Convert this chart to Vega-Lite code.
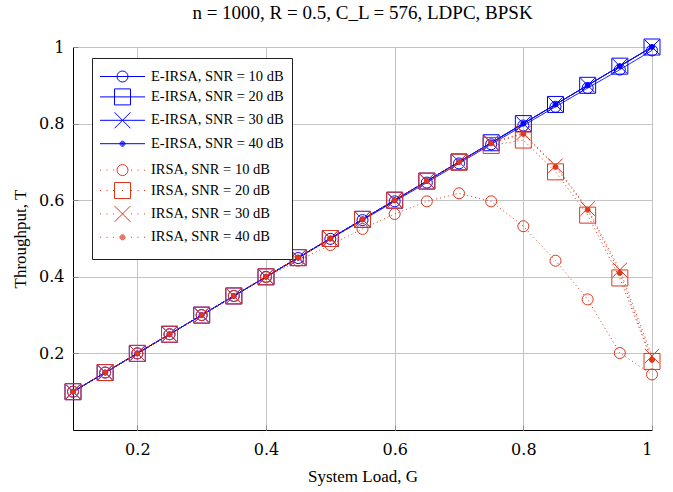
{
 "$schema": "https://vega.github.io/schema/vega-lite/v6.json",
 "width": 579,
 "height": 383,
 "autosize": "none",
 "padding": {"left": 73, "top": 47, "right": 21, "bottom": 62},
 "background": "white",
 "title": {"text": "n = 1000, R = 0.5, C_L = 576, LDPC, BPSK", "font": "Liberation Serif", "fontSize": 19, "fontWeight": "normal", "color": "black", "offset": 14, "anchor": "middle"},
 "data": {"values": [
  {"G":0.1,"T":0.1,"s":"E-IRSA, SNR = 10 dB"},{"G":0.15,"T":0.15,"s":"E-IRSA, SNR = 10 dB"},{"G":0.2,"T":0.2,"s":"E-IRSA, SNR = 10 dB"},{"G":0.25,"T":0.25,"s":"E-IRSA, SNR = 10 dB"},{"G":0.3,"T":0.3,"s":"E-IRSA, SNR = 10 dB"},{"G":0.35,"T":0.35,"s":"E-IRSA, SNR = 10 dB"},{"G":0.4,"T":0.4,"s":"E-IRSA, SNR = 10 dB"},{"G":0.45,"T":0.449,"s":"E-IRSA, SNR = 10 dB"},{"G":0.5,"T":0.499,"s":"E-IRSA, SNR = 10 dB"},{"G":0.55,"T":0.548,"s":"E-IRSA, SNR = 10 dB"},{"G":0.6,"T":0.597,"s":"E-IRSA, SNR = 10 dB"},{"G":0.65,"T":0.646,"s":"E-IRSA, SNR = 10 dB"},{"G":0.7,"T":0.696,"s":"E-IRSA, SNR = 10 dB"},{"G":0.75,"T":0.746,"s":"E-IRSA, SNR = 10 dB"},{"G":0.8,"T":0.795,"s":"E-IRSA, SNR = 10 dB"},{"G":0.85,"T":0.844,"s":"E-IRSA, SNR = 10 dB"},{"G":0.9,"T":0.893,"s":"E-IRSA, SNR = 10 dB"},{"G":0.95,"T":0.941,"s":"E-IRSA, SNR = 10 dB"},{"G":1.0,"T":0.991,"s":"E-IRSA, SNR = 10 dB"},
  {"G":0.1,"T":0.1,"s":"E-IRSA, SNR = 20 dB"},{"G":0.15,"T":0.15,"s":"E-IRSA, SNR = 20 dB"},{"G":0.2,"T":0.2,"s":"E-IRSA, SNR = 20 dB"},{"G":0.25,"T":0.25,"s":"E-IRSA, SNR = 20 dB"},{"G":0.3,"T":0.3,"s":"E-IRSA, SNR = 20 dB"},{"G":0.35,"T":0.35,"s":"E-IRSA, SNR = 20 dB"},{"G":0.4,"T":0.4,"s":"E-IRSA, SNR = 20 dB"},{"G":0.45,"T":0.45,"s":"E-IRSA, SNR = 20 dB"},{"G":0.5,"T":0.5,"s":"E-IRSA, SNR = 20 dB"},{"G":0.55,"T":0.55,"s":"E-IRSA, SNR = 20 dB"},{"G":0.6,"T":0.6,"s":"E-IRSA, SNR = 20 dB"},{"G":0.65,"T":0.65,"s":"E-IRSA, SNR = 20 dB"},{"G":0.7,"T":0.7,"s":"E-IRSA, SNR = 20 dB"},{"G":0.75,"T":0.75,"s":"E-IRSA, SNR = 20 dB"},{"G":0.8,"T":0.8,"s":"E-IRSA, SNR = 20 dB"},{"G":0.85,"T":0.85,"s":"E-IRSA, SNR = 20 dB"},{"G":0.9,"T":0.9,"s":"E-IRSA, SNR = 20 dB"},{"G":0.95,"T":0.95,"s":"E-IRSA, SNR = 20 dB"},{"G":1.0,"T":1.0,"s":"E-IRSA, SNR = 20 dB"},
  {"G":0.1,"T":0.1,"s":"E-IRSA, SNR = 30 dB"},{"G":0.15,"T":0.15,"s":"E-IRSA, SNR = 30 dB"},{"G":0.2,"T":0.2,"s":"E-IRSA, SNR = 30 dB"},{"G":0.25,"T":0.25,"s":"E-IRSA, SNR = 30 dB"},{"G":0.3,"T":0.3,"s":"E-IRSA, SNR = 30 dB"},{"G":0.35,"T":0.35,"s":"E-IRSA, SNR = 30 dB"},{"G":0.4,"T":0.4,"s":"E-IRSA, SNR = 30 dB"},{"G":0.45,"T":0.45,"s":"E-IRSA, SNR = 30 dB"},{"G":0.5,"T":0.5,"s":"E-IRSA, SNR = 30 dB"},{"G":0.55,"T":0.55,"s":"E-IRSA, SNR = 30 dB"},{"G":0.6,"T":0.6,"s":"E-IRSA, SNR = 30 dB"},{"G":0.65,"T":0.65,"s":"E-IRSA, SNR = 30 dB"},{"G":0.7,"T":0.7,"s":"E-IRSA, SNR = 30 dB"},{"G":0.75,"T":0.75,"s":"E-IRSA, SNR = 30 dB"},{"G":0.8,"T":0.8,"s":"E-IRSA, SNR = 30 dB"},{"G":0.85,"T":0.85,"s":"E-IRSA, SNR = 30 dB"},{"G":0.9,"T":0.9,"s":"E-IRSA, SNR = 30 dB"},{"G":0.95,"T":0.95,"s":"E-IRSA, SNR = 30 dB"},{"G":1.0,"T":1.0,"s":"E-IRSA, SNR = 30 dB"},
  {"G":0.1,"T":0.1,"s":"E-IRSA, SNR = 40 dB"},{"G":0.15,"T":0.15,"s":"E-IRSA, SNR = 40 dB"},{"G":0.2,"T":0.2,"s":"E-IRSA, SNR = 40 dB"},{"G":0.25,"T":0.25,"s":"E-IRSA, SNR = 40 dB"},{"G":0.3,"T":0.3,"s":"E-IRSA, SNR = 40 dB"},{"G":0.35,"T":0.35,"s":"E-IRSA, SNR = 40 dB"},{"G":0.4,"T":0.4,"s":"E-IRSA, SNR = 40 dB"},{"G":0.45,"T":0.45,"s":"E-IRSA, SNR = 40 dB"},{"G":0.5,"T":0.5,"s":"E-IRSA, SNR = 40 dB"},{"G":0.55,"T":0.55,"s":"E-IRSA, SNR = 40 dB"},{"G":0.6,"T":0.6,"s":"E-IRSA, SNR = 40 dB"},{"G":0.65,"T":0.65,"s":"E-IRSA, SNR = 40 dB"},{"G":0.7,"T":0.7,"s":"E-IRSA, SNR = 40 dB"},{"G":0.75,"T":0.75,"s":"E-IRSA, SNR = 40 dB"},{"G":0.8,"T":0.8,"s":"E-IRSA, SNR = 40 dB"},{"G":0.85,"T":0.85,"s":"E-IRSA, SNR = 40 dB"},{"G":0.9,"T":0.9,"s":"E-IRSA, SNR = 40 dB"},{"G":0.95,"T":0.95,"s":"E-IRSA, SNR = 40 dB"},{"G":1.0,"T":1.0,"s":"E-IRSA, SNR = 40 dB"},
  {"G":0.1,"T":0.1,"s":"IRSA, SNR = 10 dB"},{"G":0.15,"T":0.15,"s":"IRSA, SNR = 10 dB"},{"G":0.2,"T":0.2,"s":"IRSA, SNR = 10 dB"},{"G":0.25,"T":0.25,"s":"IRSA, SNR = 10 dB"},{"G":0.3,"T":0.3,"s":"IRSA, SNR = 10 dB"},{"G":0.35,"T":0.35,"s":"IRSA, SNR = 10 dB"},{"G":0.4,"T":0.399,"s":"IRSA, SNR = 10 dB"},{"G":0.45,"T":0.442,"s":"IRSA, SNR = 10 dB"},{"G":0.5,"T":0.483,"s":"IRSA, SNR = 10 dB"},{"G":0.55,"T":0.525,"s":"IRSA, SNR = 10 dB"},{"G":0.6,"T":0.564,"s":"IRSA, SNR = 10 dB"},{"G":0.65,"T":0.597,"s":"IRSA, SNR = 10 dB"},{"G":0.7,"T":0.618,"s":"IRSA, SNR = 10 dB"},{"G":0.75,"T":0.597,"s":"IRSA, SNR = 10 dB"},{"G":0.8,"T":0.532,"s":"IRSA, SNR = 10 dB"},{"G":0.85,"T":0.442,"s":"IRSA, SNR = 10 dB"},{"G":0.9,"T":0.341,"s":"IRSA, SNR = 10 dB"},{"G":0.95,"T":0.201,"s":"IRSA, SNR = 10 dB"},{"G":1.0,"T":0.145,"s":"IRSA, SNR = 10 dB"},
  {"G":0.1,"T":0.1,"s":"IRSA, SNR = 20 dB"},{"G":0.15,"T":0.15,"s":"IRSA, SNR = 20 dB"},{"G":0.2,"T":0.2,"s":"IRSA, SNR = 20 dB"},{"G":0.25,"T":0.25,"s":"IRSA, SNR = 20 dB"},{"G":0.3,"T":0.3,"s":"IRSA, SNR = 20 dB"},{"G":0.35,"T":0.35,"s":"IRSA, SNR = 20 dB"},{"G":0.4,"T":0.4,"s":"IRSA, SNR = 20 dB"},{"G":0.45,"T":0.45,"s":"IRSA, SNR = 20 dB"},{"G":0.5,"T":0.5,"s":"IRSA, SNR = 20 dB"},{"G":0.55,"T":0.55,"s":"IRSA, SNR = 20 dB"},{"G":0.6,"T":0.6,"s":"IRSA, SNR = 20 dB"},{"G":0.65,"T":0.65,"s":"IRSA, SNR = 20 dB"},{"G":0.7,"T":0.699,"s":"IRSA, SNR = 20 dB"},{"G":0.75,"T":0.743,"s":"IRSA, SNR = 20 dB"},{"G":0.8,"T":0.757,"s":"IRSA, SNR = 20 dB"},{"G":0.85,"T":0.674,"s":"IRSA, SNR = 20 dB"},{"G":0.9,"T":0.561,"s":"IRSA, SNR = 20 dB"},{"G":0.95,"T":0.397,"s":"IRSA, SNR = 20 dB"},{"G":1.0,"T":0.179,"s":"IRSA, SNR = 20 dB"},
  {"G":0.1,"T":0.1,"s":"IRSA, SNR = 30 dB"},{"G":0.15,"T":0.15,"s":"IRSA, SNR = 30 dB"},{"G":0.2,"T":0.2,"s":"IRSA, SNR = 30 dB"},{"G":0.25,"T":0.25,"s":"IRSA, SNR = 30 dB"},{"G":0.3,"T":0.3,"s":"IRSA, SNR = 30 dB"},{"G":0.35,"T":0.35,"s":"IRSA, SNR = 30 dB"},{"G":0.4,"T":0.4,"s":"IRSA, SNR = 30 dB"},{"G":0.45,"T":0.45,"s":"IRSA, SNR = 30 dB"},{"G":0.5,"T":0.5,"s":"IRSA, SNR = 30 dB"},{"G":0.55,"T":0.55,"s":"IRSA, SNR = 30 dB"},{"G":0.6,"T":0.6,"s":"IRSA, SNR = 30 dB"},{"G":0.65,"T":0.65,"s":"IRSA, SNR = 30 dB"},{"G":0.7,"T":0.7,"s":"IRSA, SNR = 30 dB"},{"G":0.75,"T":0.75,"s":"IRSA, SNR = 30 dB"},{"G":0.8,"T":0.775,"s":"IRSA, SNR = 30 dB"},{"G":0.85,"T":0.69,"s":"IRSA, SNR = 30 dB"},{"G":0.9,"T":0.578,"s":"IRSA, SNR = 30 dB"},{"G":0.95,"T":0.418,"s":"IRSA, SNR = 30 dB"},{"G":1.0,"T":0.193,"s":"IRSA, SNR = 30 dB"},
  {"G":0.1,"T":0.1,"s":"IRSA, SNR = 40 dB"},{"G":0.15,"T":0.15,"s":"IRSA, SNR = 40 dB"},{"G":0.2,"T":0.2,"s":"IRSA, SNR = 40 dB"},{"G":0.25,"T":0.25,"s":"IRSA, SNR = 40 dB"},{"G":0.3,"T":0.3,"s":"IRSA, SNR = 40 dB"},{"G":0.35,"T":0.35,"s":"IRSA, SNR = 40 dB"},{"G":0.4,"T":0.4,"s":"IRSA, SNR = 40 dB"},{"G":0.45,"T":0.45,"s":"IRSA, SNR = 40 dB"},{"G":0.5,"T":0.5,"s":"IRSA, SNR = 40 dB"},{"G":0.55,"T":0.55,"s":"IRSA, SNR = 40 dB"},{"G":0.6,"T":0.6,"s":"IRSA, SNR = 40 dB"},{"G":0.65,"T":0.65,"s":"IRSA, SNR = 40 dB"},{"G":0.7,"T":0.7,"s":"IRSA, SNR = 40 dB"},{"G":0.75,"T":0.749,"s":"IRSA, SNR = 40 dB"},{"G":0.8,"T":0.773,"s":"IRSA, SNR = 40 dB"},{"G":0.85,"T":0.687,"s":"IRSA, SNR = 40 dB"},{"G":0.9,"T":0.575,"s":"IRSA, SNR = 40 dB"},{"G":0.95,"T":0.41,"s":"IRSA, SNR = 40 dB"},{"G":1.0,"T":0.183,"s":"IRSA, SNR = 40 dB"}
 ]},
 "layer": [
  {
   "mark": {"type": "line", "strokeWidth": 1},
   "encoding": {
    "x": {"field": "G", "type": "quantitative", "scale": {"domain": [0.1, 1], "nice": false, "zero": false},
          "axis": {"values": [0.2, 0.4, 0.6, 0.8, 1], "format": ".1~f", "title": "System Load, G"}},
    "y": {"field": "T", "type": "quantitative", "scale": {"domain": [0, 1], "nice": false},
          "axis": {"values": [0.2, 0.4, 0.6, 0.8, 1], "format": ".1~f", "title": "Throughput, T"}},
    "color": {"field": "s", "type": "nominal",
              "scale": {"domain": ["E-IRSA, SNR = 10 dB","E-IRSA, SNR = 20 dB","E-IRSA, SNR = 30 dB","E-IRSA, SNR = 40 dB","IRSA, SNR = 10 dB","IRSA, SNR = 20 dB","IRSA, SNR = 30 dB","IRSA, SNR = 40 dB"],
                        "range": ["#0000ff","#0000ff","#0000ff","#0000ff","#e0361a","#e0361a","#e0361a","#e0361a"]},
              "legend": null},
    "strokeDash": {"field": "s", "type": "nominal",
              "scale": {"domain": ["E-IRSA, SNR = 10 dB","E-IRSA, SNR = 20 dB","E-IRSA, SNR = 30 dB","E-IRSA, SNR = 40 dB","IRSA, SNR = 10 dB","IRSA, SNR = 20 dB","IRSA, SNR = 30 dB","IRSA, SNR = 40 dB"],
                        "range": [[1,0],[1,0],[1,0],[1,0],[1,3],[1,3],[1,3],[1,3]]},
              "legend": null},
    "order": {"field": "G", "type": "quantitative"}
   }
  },
  {
   "mark": {"type": "point", "filled": false, "opacity": 1, "strokeWidth": 1, "size": 256},
   "encoding": {
    "x": {"field": "G", "type": "quantitative"},
    "y": {"field": "T", "type": "quantitative"},
    "color": {"field": "s", "type": "nominal", "legend": null},
    "shape": {"field": "s", "type": "nominal",
              "scale": {"domain": ["E-IRSA, SNR = 10 dB","E-IRSA, SNR = 20 dB","E-IRSA, SNR = 30 dB","E-IRSA, SNR = 40 dB","IRSA, SNR = 10 dB","IRSA, SNR = 20 dB","IRSA, SNR = 30 dB","IRSA, SNR = 40 dB"],
                        "range": ["M0.69,0A0.69,0.69 0 1,1 -0.69,0A0.69,0.69 0 1,1 0.69,0Z","M-1,-1H1V1H-1Z","M-0.9,-0.9L0.9,0.9M-0.9,0.9L0.9,-0.9","M0.31,0A0.31,0.31 0 1,1 -0.31,0A0.31,0.31 0 1,1 0.31,0Z","M0.69,0A0.69,0.69 0 1,1 -0.69,0A0.69,0.69 0 1,1 0.69,0Z","M-1,-1H1V1H-1Z","M-0.9,-0.9L0.9,0.9M-0.9,0.9L0.9,-0.9","M0.31,0A0.31,0.31 0 1,1 -0.31,0A0.31,0.31 0 1,1 0.31,0Z"]},
              "legend": null},
    "fill": {"condition": [{"test": "datum.s === 'E-IRSA, SNR = 40 dB'", "value": "#0000ff"}, {"test": "datum.s === 'IRSA, SNR = 40 dB'", "value": "#e0361a"}], "value": "transparent"}
   }
  },
  {
   "mark": {"type": "point", "filled": false, "opacity": 0, "size": 400},
   "encoding": {
    "x": {"field": "G", "type": "quantitative"},
    "y": {"field": "T", "type": "quantitative"},
    "shape": {"field": "s", "type": "nominal",
              "scale": {"domain": ["E-IRSA, SNR = 10 dB","E-IRSA, SNR = 20 dB","E-IRSA, SNR = 30 dB","E-IRSA, SNR = 40 dB","IRSA, SNR = 10 dB","IRSA, SNR = 20 dB","IRSA, SNR = 30 dB","IRSA, SNR = 40 dB"],
                        "range": ["circle","circle","circle","circle","circle","circle","circle","circle"]},
              "legend": {"orient": "none", "legendX": 19, "legendY": 11, "title": null, "symbolSize": 400, "symbolStrokeWidth": 1, "symbolOpacity": 0,
                         "labelFont": "Liberation Serif", "labelFontSize": 14.5, "labelColor": "black", "labelOpacity": 0, "labelOffset": 30, "labelLimit": 400,
                         "padding": 8, "rowPadding": 2.4, "strokeColor": "#222222", "fillColor": "white", "cornerRadius": 0}}
   }
  },
  {
   "transform": [{"filter": "indexof(datum.s, 'E-IRSA') === 0"}],
   "mark": {"type": "point", "filled": false, "opacity": 0, "size": 400, "color": "#0000ff"},
   "encoding": {
    "x": {"field": "G", "type": "quantitative"},
    "y": {"field": "T", "type": "quantitative"},
    "shape": {"field": "s", "type": "nominal",
              "scale": {"domain": ["E-IRSA, SNR = 10 dB","E-IRSA, SNR = 20 dB","E-IRSA, SNR = 30 dB","E-IRSA, SNR = 40 dB"],
                        "range": [
                          "M-1.05,0H3.45M1.75,0A0.55,0.55 0 1,1 0.65,0A0.55,0.55 0 1,1 1.75,0Z",
                          "M-1.05,0H3.45M0.4,-0.8H2V0.8H0.4Z",
                          "M-1.05,0H3.45M0.4,-0.8L2,0.8M0.4,0.8L2,-0.8",
                          "M-1.05,0H3.45M1.45,0A0.25,0.25 0 1,1 0.95,0A0.25,0.25 0 1,1 1.45,0ZM1.35,0A0.15,0.15 0 1,1 1.05,0A0.15,0.15 0 1,1 1.35,0ZM1.25,0A0.05,0.05 0 1,1 1.15,0A0.05,0.05 0 1,1 1.25,0Z"]},
              "legend": {"orient": "none", "legendX": 19, "legendY": 11, "title": null, "symbolSize": 400, "symbolStrokeWidth": 1, "symbolOpacity": 1,
                         "labelFont": "Liberation Serif", "labelFontSize": 14.5, "labelColor": "black", "labelOffset": 30, "labelLimit": 400,
                         "padding": 8, "rowPadding": 2.4, "strokeColor": "transparent", "fillColor": "transparent"}}
   }
  },
  {
   "transform": [{"filter": "indexof(datum.s, 'E-IRSA') !== 0"}],
   "mark": {"type": "point", "filled": false, "opacity": 0, "size": 400, "color": "#e0361a"},
   "encoding": {
    "x": {"field": "G", "type": "quantitative"},
    "y": {"field": "T", "type": "quantitative"},
    "shape": {"field": "s", "type": "nominal",
              "scale": {"domain": ["IRSA, SNR = 10 dB","IRSA, SNR = 20 dB","IRSA, SNR = 30 dB","IRSA, SNR = 40 dB"],
                        "range": [
                          "M-1.05,0h0.1M-0.4,0h0.1M0.25,0h0.1M2.05,0h0.1M2.7,0h0.1M3.35,0h0.1M1.75,0A0.55,0.55 0 1,1 0.65,0A0.55,0.55 0 1,1 1.75,0Z",
                          "M-1.05,0h0.1M-0.4,0h0.1M0.25,0h0.1M1.15,0h0.1M2.05,0h0.1M2.7,0h0.1M3.35,0h0.1M0.4,-0.8H2V0.8H0.4Z",
                          "M-1.05,0h0.1M-0.4,0h0.1M0.25,0h0.1M2.05,0h0.1M2.7,0h0.1M3.35,0h0.1M0.4,-0.8L2,0.8M0.4,0.8L2,-0.8",
                          "M-1.05,0h0.1M-0.4,0h0.1M0.25,0h0.1M2.05,0h0.1M2.7,0h0.1M3.35,0h0.1M1.45,0A0.25,0.25 0 1,1 0.95,0A0.25,0.25 0 1,1 1.45,0ZM1.35,0A0.15,0.15 0 1,1 1.05,0A0.15,0.15 0 1,1 1.35,0ZM1.25,0A0.05,0.05 0 1,1 1.15,0A0.05,0.05 0 1,1 1.25,0Z"]},
              "legend": {"orient": "none", "legendX": 19, "legendY": 104.6, "title": null, "symbolSize": 400, "symbolStrokeWidth": 1, "symbolOpacity": 1,
                         "labelFont": "Liberation Serif", "labelFontSize": 14.5, "labelColor": "black", "labelOffset": 30, "labelLimit": 400,
                         "padding": 8, "rowPadding": 2.4, "strokeColor": "transparent", "fillColor": "transparent"}}
   }
  }
 ],
 "resolve": {"scale": {"shape": "independent"}},
 "config": {
  "view": {"stroke": "black", "strokeWidth": 1},
  "axis": {"domain": false, "grid": true, "gridColor": "#c4c4c4", "gridWidth": 1, "ticks": true, "tickSize": -5, "tickColor": "#888888", "tickWidth": 1,
           "labelFont": "DejaVu Serif", "labelFontSize": 16, "labelColor": "black",
           "titleFont": "Liberation Serif", "titleFontSize": 17, "titleFontWeight": "normal", "titleColor": "black"},
  "axisX": {"labelPadding": 16, "titlePadding": 11},
  "axisY": {"labelPadding": 14, "titlePadding": 9}
 }
}
